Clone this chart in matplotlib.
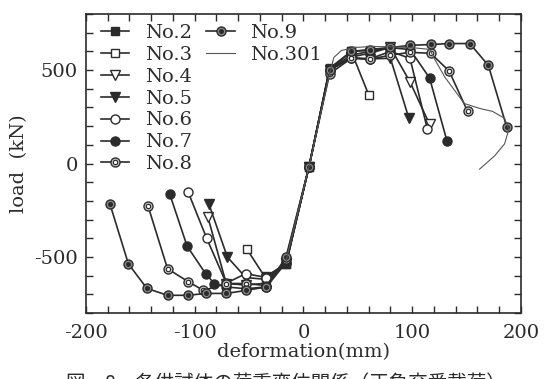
import matplotlib
matplotlib.use("Agg")
import matplotlib.pyplot as plt

# ---------------------------------------------------------------------------
# Skeleton curves, deformation (mm) vs load (kN)
# ---------------------------------------------------------------------------
no2_x = [-34, -16, 5, 24, 44, 61, 80]
no2_y = [-600, -540, -20, 510, 600, 605, 620]

no3_x = [-52, -34, -16, 5, 24, 44, 60]
no3_y = [-458, -620, -540, -20, 500, 600, 368]

no4_x = [-88, -71, -53, -34, -16, 5, 24, 44, 61, 80, 98, 116]
no4_y = [-284, -642, -650, -640, -530, -20, 500, 570, 590, 621, 437, 210]

no5_x = [-87, -70, -53, -34, -16, 5, 24, 44, 61, 80, 97]
no5_y = [-216, -500, -610, -620, -530, -20, 500, 565, 560, 563, 242]

no6_x = [-106, -89, -71, -53, -34, -16, 5, 24, 44, 61, 80, 98, 114]
no6_y = [-153, -400, -640, -589, -610, -530, -20, 500, 565, 560, 600, 563, 184]

no7_x = [-123, -107, -90, -82, -71, -53, -34, -16, 5, 24, 44, 61, 80, 98, 116, 132]
no7_y = [-163, -442, -589, -642, -660, -670, -660, -530, -20, 500, 580, 600, 620, 610, 458, 121]

no8_x = [-143, -125, -106, -92, -71, -53, -34, -16, 5, 24, 44, 61, 80, 98, 117, 134, 151]
no8_y = [-226, -563, -632, -679, -642, -642, -653, -510, -20, 480, 563, 558, 580, 595, 590, 495, 279]

no9_x = [-178, -161, -144, -125, -106, -90, -71, -53, -34, -16, 5, 24, 44, 61, 80, 98, 117, 134, 153, 170, 187]
no9_y = [-216, -537, -668, -705, -705, -695, -695, -679, -660, -500, -20, 500, 600, 610, 621, 632, 637, 642, 642, 526, 195]

no301_x = [-16, 5, 24, 28, 35, 47, 63, 80, 100, 116, 121, 130, 140, 148, 162, 174, 185, 189, 185, 176, 162]
no301_y = [-520, -20, 480, 568, 605, 621, 626, 625, 620, 611, 555, 463, 384, 321, 295, 279, 242, 184, 105, 42, -30]

x_ticks = list(range(-200, 201, 20))
y_ticks = list(range(-800, 801, 100))

INK = "#2b2b2b"
FONT = "DejaVu Serif"
FS = 14

plt.rcParams["font.family"] = FONT
plt.rcParams["text.color"] = INK
plt.rcParams["axes.labelcolor"] = INK

fig = plt.figure(figsize=(5.46, 3.79), dpi=100)
ax = fig.add_axes([0.1575, 0.174, 0.7965, 0.789])

line_kw = dict(color=INK, lw=1.2, mec=INK, mew=1.0)

h2, = ax.plot(no2_x, no2_y, marker="s", mfc=INK, ms=5.5, **line_kw)
h3, = ax.plot(no3_x, no3_y, marker="s", mfc="white", ms=5.5, **line_kw)
h4, = ax.plot(no4_x, no4_y, marker="v", mfc="white", ms=6.5, **line_kw)
h5, = ax.plot(no5_x, no5_y, marker="v", mfc=INK, ms=6.5, **line_kw)
h6, = ax.plot(no6_x, no6_y, marker="o", mfc="white", ms=6.5, **line_kw)
h7, = ax.plot(no7_x, no7_y, marker="o", mfc=INK, ms=6.5, **line_kw)

# double ring marker
h8, = ax.plot(no8_x, no8_y, marker="o", mfc="#d8d8d8", ms=6.5, **line_kw)
h8i, = ax.plot(no8_x, no8_y, ls="none", marker="o", ms=3.2, mfc="white", mec=INK, mew=0.9)

# grey ring with dark centre
h9, = ax.plot(no9_x, no9_y, marker="o", mfc="#8a8a8a", ms=6.5, **line_kw)
h9i, = ax.plot(no9_x, no9_y, ls="none", marker="o", ms=2.6, mfc=INK, mec=INK)

h301, = ax.plot(no301_x, no301_y, color="#555555", lw=0.8)

ax.set_xlim(-200, 200)
ax.set_ylim(-800, 800)
ax.set_xticks(x_ticks)
ax.set_yticks(y_ticks)
ax.set_xticklabels([str(v) if v % 100 == 0 else "" for v in x_ticks])
ax.set_yticklabels([str(v) if v % 500 == 0 else "" for v in y_ticks])
ax.tick_params(direction="in", length=5, width=1.0, color=INK, labelcolor=INK,
               labelsize=FS, top=True, right=True)
ax.tick_params(axis="x", pad=8)
ax.tick_params(axis="y", pad=6)
for sp in ax.spines.values():
    sp.set_color(INK)
    sp.set_linewidth(1.2)

ax.set_xlabel("deformation(mm)", fontsize=FS, labelpad=1)
ax.set_ylabel("load  (kN)", fontsize=FS, labelpad=4)

leg_kw = dict(frameon=False, fontsize=FS, handlelength=1.45, handletextpad=0.8,
              labelspacing=0.2, borderpad=0, borderaxespad=0, loc="upper left")
leg1 = ax.legend([h2, h3, h4, h5, h6, h7, (h8, h8i)],
                 ["No.2", "No.3", "No.4", "No.5", "No.6", "No.7", "No.8"],
                 bbox_to_anchor=(0.035, 0.967), **leg_kw)
ax.add_artist(leg1)
ax.legend([(h9, h9i), h301], ["No.9", "No.301"],
          bbox_to_anchor=(0.277, 0.967), **leg_kw)

# caption, mostly below the bottom edge
fig.text(0.12, -0.04, "図－8　各供試体の荷重変位関係（正負交番載荷）",
         fontsize=FS, family=["Noto Sans CJK JP", "DejaVu Sans"], color=INK,
         va="bottom", ha="left")

fig.savefig("out.png", dpi=100)
